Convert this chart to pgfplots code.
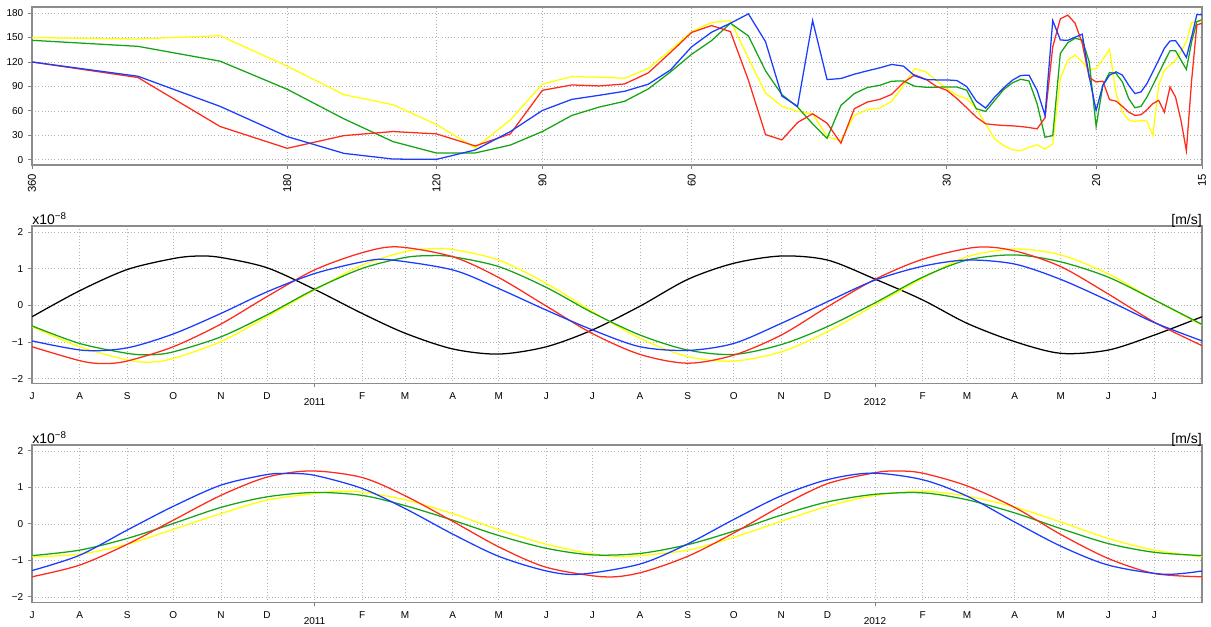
\documentclass[border=0pt]{standalone}
\usepackage{fontspec}
\setmainfont{Liberation Sans}
\usepackage{pgfplots}
\usepackage{pgfplotstable}
\pgfplotsset{compat=1.18}
\definecolor{cR}{HTML}{FF2A1A}
\definecolor{cB}{HTML}{1A3CFF}
\definecolor{cG}{HTML}{16A316}
\definecolor{cY}{HTML}{FFFF00}

\pgfplotstableread{
k red blue green yellow
3 120 120 146.6 149.9
4 100.9 102.5 139.2 148.2
5 40.8 65.5 121 152.3
6 14 28.4 86.5 114.9
7 29.6 7.8 50.2 79.9
8 34.6 0.8 22.2 67.5
9 31.7 0.4 8.2 43.2
10 16.9 12 8.3 14.4
11 31.7 34.6 18 49
12 85.2 60.5 34.6 92.7
13 91.8 74.1 54.4 102.1
14 90.6 79.1 64.6 101.3
15 93 84 71.7 100
16 106.6 92.7 86.9 112
17 131.8 110.3 107.9 134.7
18 156.3 138.7 129.5 157.3
19 164.7 156.5 146.2 168.4
20 157.3 167.6 167.6 170.9
21 97.6 179.1 152 124.4
22 30.9 144.9 109.1 81.9
23 24.3 78.2 79.9 65.5
24 45.7 65.5 64.6 59.3
25 56.4 170.9 44 56.4
26 44.9 98.4 26.3 28.4
27 20.2 99.7 66.7 23.5
28 62.6 105 81.2 54.4
29 70.8 109.1 88.6 61.4
30 74.1 112.8 91.4 63.4
31 80.3 117 96.4 71.7
32 94.8 114.9 96.7 91.4
33 104.1 102.9 90.2 112
34 98.8 98.4 89 107.9
35 90 98 89 97
36 85.2 98 89.3 87.3
37 75 97.2 89.3 79
38 63.8 89.8 85.2 75
39 52.3 72 62.6 62.6
40 44.1 63.4 59.3 44.1
41 42.9 77 72.9 25.6
42 42 88.1 86.1 17.3
43 41.6 97.6 94.3 12.4
44 40.8 103.4 98.8 11.1
45 39.5 103.8 96.7 15.2
46 37.9 85.2 68.8 18.2
47 51.5 54.4 27.6 13.2
48 138.7 170.9 29.6 19.4
49 173 147 130.6 99.7
50 177.5 146.6 143.7 122.3
51 167.6 150.4 149.1 128.5
52 142.9 154.1 147 120.2
53 100.9 101.7 120.2 110
54 95.5 60.5 40.8 112
55 96.4 91.4 91.4 123.2
56 73.7 103.8 107.1 135.5
57 72 107.9 105.9 81.2
58 65.5 103.8 95.5 58.4
59 58.4 91.4 75 49
60 54.4 81.2 63.8 46.9
61 55.2 83.2 65.5 48.2
62 61.4 93.5 77 47.3
63 68.8 107.9 91.4 29.6
64 72.9 122.3 105.9 91.4
65 58.4 136.8 120.2 110
66 89.3 145.8 133.8 116.1
67 77 146.2 133.8 122.3
68 48.2 136.8 122.3 132.6
69 11.1 125.6 110.8 144.9
70 97.6 151.1 144.9 168.4
71 165.5 178.3 169.6 169.6
72 167.6 177.9 171.7 170.9
}\spectab

\pgfplotsset{
  panel/.style={
    scale only axis, width=877.5pt, height=118pt,
    axis line style={draw=gray!90, line width=0.9pt},
    grid=major,
    major grid style={dotted, draw=gray!60, line width=0.5pt},
    tick align=outside, tick pos=left,
    major tick length=3pt,
    tick style={draw=gray, line width=0.6pt},
    tick label style={font=\fontsize{7.5}{9}\selectfont},
    every axis plot/.append style={line width=0.95pt, no markers},
  },
  months/.style={
    xmin=0, xmax=762,
    xtick={0,31,62,92,123,153,215,243,274,304,335,365,396,427,457,488,518,580,609,640,670,701,731},
    xticklabels={J,A,S,O,N,D,F,M,A,M,J,J,A,S,O,N,D,F,M,A,M,J,J},
    xticklabel style={text height=5.6pt},
    major x tick style={draw=none},
    extra x ticks={184,549}, extra x tick labels={2011,2012},
    extra x tick style={grid=major, major x tick style={draw=gray, line width=0.6pt}, xticklabel style={yshift=-4.5pt}},
    ytick={-2,-1,0,1,2}, yticklabels={−2,−1,0,1,2},
    every axis plot/.append style={smooth},
  },
}

\begin{document}
\begin{tikzpicture}
\useasboundingbox (0,0) rectangle (908.25pt,-469.5pt);

% ---------- top panel ----------
\begin{axis}[panel, name=top, at={(24pt,-5.25pt)}, anchor=north west, height=118.5pt,
  xmode=log, xmin=3, xmax=72,
  xtick={3,6,9,12,18,36,54,72}, xticklabels={360,180,120,90,60,30,20,15},
  minor xtick={},
  xticklabel style={rotate=90, anchor=east, font=\fontsize{8.5}{10}\selectfont},
  ymin=-6.5, ymax=187.5,
  ytick={0,30,60,90,120,150,180}, yticklabels={0,30,60,90,120,150,180}]
\addplot[cY] table[x=k,y=yellow]{\spectab};
\addplot[cG] table[x=k,y=green]{\spectab};
\addplot[cR] table[x=k,y=red]{\spectab};
\addplot[cB] table[x=k,y=blue]{\spectab};
\end{axis}

% ---------- middle panel ----------
\begin{axis}[panel, months, name=mid, at={(24pt,-169.5pt)}, anchor=north west,
  ymin=-2.13, ymax=2.17]
\addplot[black] coordinates {(0,-0.31)(31,0.40)(62,0.98)(92,1.28)(108,1.35)(123,1.31)(153,1.03)(184,0.44)(215,-0.22)(243,-0.76)(274,-1.19)(304,-1.33)(335,-1.13)(365,-0.67)(396,-0.02)(427,0.71)(457,1.15)(488,1.35)(518,1.24)(549,0.72)(580,0.15)(609,-0.49)(640,-0.99)(670,-1.31)(701,-1.22)(731,-0.81)(762,-0.31)};
\addplot[cY] coordinates {(0,-0.58)(31,-1.13)(62,-1.49)(77,-1.55)(92,-1.45)(123,-0.99)(153,-0.31)(184,0.42)(215,1.10)(243,1.47)(260,1.55)(274,1.53)(304,1.24)(335,0.60)(365,-0.17)(396,-0.90)(427,-1.40)(457,-1.52)(488,-1.27)(518,-0.72)(549,0.01)(580,0.74)(609,1.33)(640,1.54)(670,1.38)(701,0.86)(731,0.15)(762,-0.54)};
\addplot[cG] coordinates {(0,-0.56)(31,-1.04)(62,-1.31)(77,-1.35)(92,-1.27)(123,-0.86)(153,-0.26)(184,0.44)(215,1.01)(243,1.31)(260,1.36)(274,1.33)(304,1.06)(335,0.49)(365,-0.20)(396,-0.81)(427,-1.22)(457,-1.34)(488,-1.07)(518,-0.58)(549,0.07)(580,0.77)(609,1.24)(640,1.38)(670,1.19)(701,0.77)(731,0.15)(762,-0.52)};
\addplot[cR] coordinates {(0,-1.13)(31,-1.51)(46,-1.59)(62,-1.52)(92,-1.13)(123,-0.51)(153,0.24)(184,0.97)(215,1.44)(238,1.60)(274,1.33)(304,0.76)(335,-0.02)(365,-0.77)(396,-1.34)(427,-1.58)(457,-1.36)(488,-0.81)(518,-0.04)(549,0.71)(580,1.26)(615,1.59)(640,1.49)(670,1.06)(701,0.31)(731,-0.46)(762,-1.10)};
\addplot[cB] coordinates {(0,-0.97)(34,-1.23)(62,-1.16)(92,-0.78)(123,-0.22)(153,0.37)(184,0.87)(215,1.19)(232,1.25)(274,0.97)(304,0.46)(335,-0.13)(365,-0.67)(396,-1.13)(427,-1.23)(457,-1.04)(488,-0.49)(518,0.10)(549,0.69)(580,1.07)(609,1.24)(640,1.13)(670,0.71)(701,0.13)(731,-0.47)(762,-0.97)};
\end{axis}

% ---------- bottom panel ----------
\begin{axis}[panel, months, name=bot, at={(24pt,-333.75pt)}, anchor=north west,
  ymin=-2.15, ymax=2.16]
\addplot[cY] coordinates {(0,-0.90)(31,-0.83)(62,-0.56)(92,-0.15)(123,0.28)(153,0.65)(184,0.83)(198,0.89)(215,0.87)(243,0.66)(274,0.28)(304,-0.16)(335,-0.56)(365,-0.82)(388,-0.89)(427,-0.72)(457,-0.37)(488,0.07)(518,0.48)(549,0.78)(580,0.89)(609,0.76)(640,0.46)(670,0.05)(701,-0.40)(731,-0.72)(762,-0.90)};
\addplot[cG] coordinates {(0,-0.87)(31,-0.72)(62,-0.40)(92,0.01)(123,0.45)(153,0.74)(184,0.86)(215,0.78)(243,0.50)(274,0.10)(304,-0.32)(335,-0.67)(365,-0.85)(396,-0.81)(427,-0.57)(457,-0.20)(488,0.24)(518,0.60)(549,0.81)(580,0.85)(609,0.66)(640,0.30)(670,-0.13)(701,-0.54)(731,-0.78)(762,-0.87)};
\addplot[cR] coordinates {(0,-1.45)(31,-1.13)(62,-0.56)(92,0.10)(123,0.78)(153,1.28)(182,1.45)(215,1.27)(243,0.77)(274,0.07)(304,-0.63)(335,-1.19)(372,-1.45)(396,-1.34)(427,-0.89)(457,-0.25)(488,0.49)(518,1.10)(549,1.40)(563,1.45)(580,1.39)(609,1.04)(640,0.45)(670,-0.29)(701,-0.95)(731,-1.36)(762,-1.45)};
\addplot[cB] coordinates {(0,-1.28)(31,-0.86)(62,-0.17)(92,0.48)(123,1.06)(153,1.35)(167,1.38)(184,1.33)(215,0.97)(243,0.42)(274,-0.28)(304,-0.89)(335,-1.29)(357,-1.38)(396,-1.10)(427,-0.55)(457,0.12)(488,0.77)(518,1.21)(547,1.39)(580,1.21)(609,0.76)(640,0.05)(670,-0.61)(701,-1.13)(737,-1.38)(762,-1.29)};
\end{axis}

\node[anchor=base west, inner sep=0pt, font=\fontsize{10.5}{12}\selectfont] at ([yshift=1pt]mid.north west) {x10\textsuperscript{−8}};
\node[anchor=base east, inner sep=0pt, font=\fontsize{10.5}{12}\selectfont] at ([yshift=1pt]mid.north east) {[m/s]};
\node[anchor=base west, inner sep=0pt, font=\fontsize{10.5}{12}\selectfont] at ([yshift=1pt]bot.north west) {x10\textsuperscript{−8}};
\node[anchor=base east, inner sep=0pt, font=\fontsize{10.5}{12}\selectfont] at ([yshift=1pt]bot.north east) {[m/s]};
\end{tikzpicture}
\end{document}
